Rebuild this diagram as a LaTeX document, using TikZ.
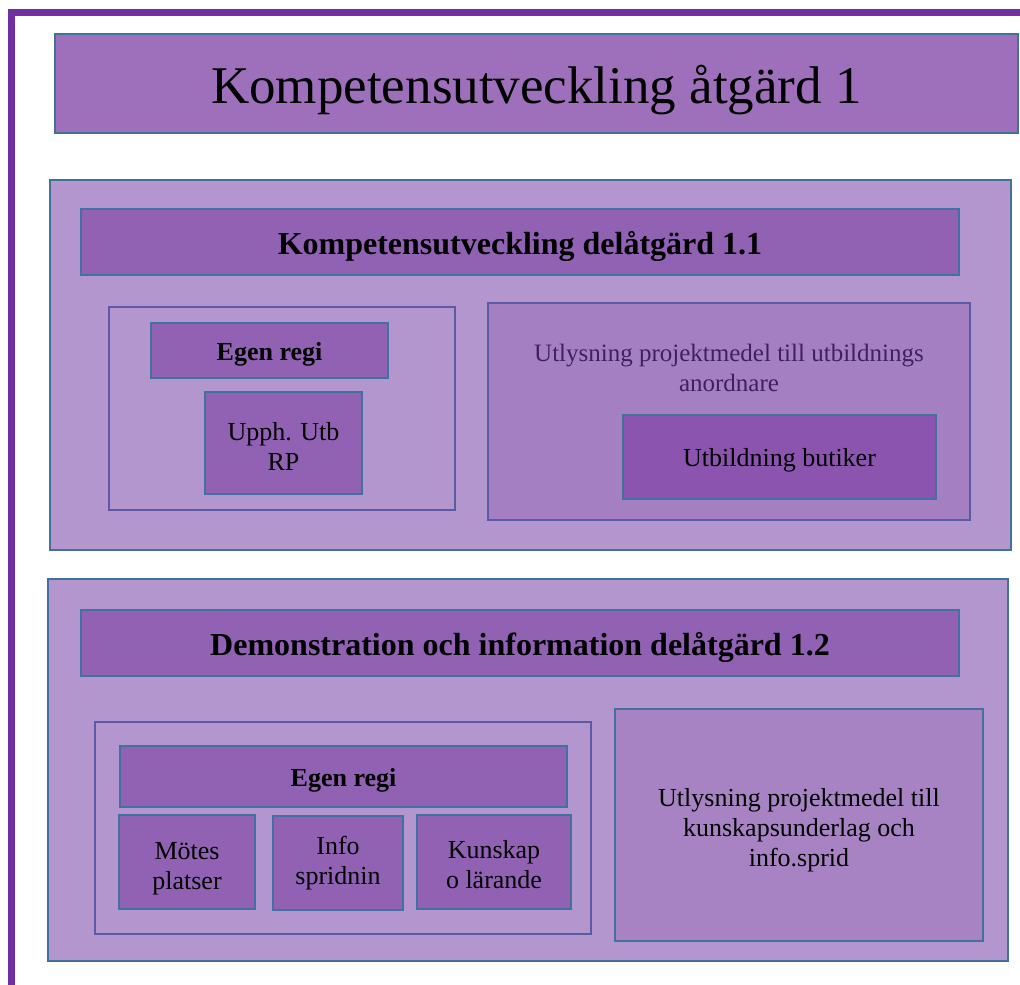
\documentclass[tikz,border=0pt]{standalone}
\usepackage{fontspec}
\setmainfont{Liberation Serif}
\definecolor{framec}{HTML}{7030A0}
\definecolor{edgeblue}{HTML}{41719C}
\definecolor{edgepurp}{HTML}{5B5BA5}
\definecolor{titlefill}{HTML}{9E70BC}
\definecolor{secfill}{HTML}{B396CE}
\definecolor{headfill}{HTML}{9161B4}
\definecolor{rfill}{HTML}{A47FC2}
\definecolor{darkfill}{HTML}{8A54AF}
\definecolor{r2fill}{HTML}{A883C4}
\definecolor{darktext}{HTML}{3F2160}
\newcommand\firstdn[1]{\rule{0pt}{#1}}
\tikzset{
  box/.style={draw=edgeblue, line width=1.6pt, inner sep=0pt, align=center, font=\fontsize{26}{30}\selectfont},
  one26/.style={text height=24.7pt, text depth=5.2pt},
  one32/.style={text height=30.4pt, text depth=6.4pt},
  sect/.style={box, fill=secfill},
  head/.style={box, one32, fill=headfill, font=\fontsize{32}{36}\selectfont\bfseries},
  egen/.style={box, one26, fill=headfill, font=\fontsize{26}{30}\selectfont\bfseries},
  leaf/.style={box, fill=headfill},
  grp/.style={box, draw=edgepurp, fill=secfill},
}
\begin{document}
\begin{tikzpicture}[x=1pt,y=-1pt]
\useasboundingbox (0,0) rectangle (1020,985);
\fill[white] (0,0) rectangle (1020,985);
\draw[framec, line width=6.5pt] (1020,12.5) -- (11.5,12.5) -- (11.5,985);
% title
\node[box, text height=50pt, text depth=10.6pt, fill=titlefill, minimum width=963pt, minimum height=99pt, font=\fontsize{53}{60}\selectfont] (title) at (536.5,83.5) {Kompetensutveckling åtgärd 1};
% section 1
\node[sect, minimum width=961pt, minimum height=370pt] (sec1) at (530.5,365) {};
\node[head, minimum width=878pt, minimum height=66pt] (h1) at (520,242) {Kompetensutveckling delåtgärd 1.1};
\node[grp, minimum width=346pt, minimum height=203pt] (l1) at (282,408.5) {};
\node[egen, minimum width=237pt, minimum height=55pt] (egen1) at (269.5,350.5) {Egen regi};
\node[leaf, minimum width=157pt, minimum height=102pt] (upph) at (283.5,443) {\firstdn{24pt}Upph. Utb\\RP};
\node[grp, fill=rfill, minimum width=482pt, minimum height=217pt] (r1) at (729,411.5) {};
\node[align=center, text=darktext, inner sep=0pt, font=\fontsize{25}{30}\selectfont] (r1t) at (729,368) {Utlysning projektmedel till utbildnings\\anordnare};
\node[box, one26, fill=darkfill, minimum width=313pt, minimum height=84pt] (but) at (779.5,457) {Utbildning butiker};
% section 2
\node[sect, minimum width=960pt, minimum height=382pt] (sec2) at (528,770) {};
\node[head, minimum width=878pt, minimum height=66pt] (h2) at (520,643) {Demonstration och information delåtgärd 1.2};
\node[grp, minimum width=496pt, minimum height=212pt] (l2) at (343,828) {};
\node[egen, minimum width=447pt, minimum height=61pt] (egen2) at (343.5,776.5) {Egen regi};
\node[leaf, minimum width=136pt, minimum height=94pt] (motes) at (187,862) {\firstdn{30pt}Mötes\\platser};
\node[leaf, minimum width=130pt, minimum height=94pt] (info) at (338,863) {Info\\spridnin};
\node[leaf, minimum width=154pt, minimum height=94pt] (kunskap) at (494,862) {\firstdn{24pt}Kunskap\\o lärande};
\node[box, fill=r2fill, minimum width=368pt, minimum height=232pt] (r2) at (799,825) {\firstdn{28pt}Utlysning projektmedel till\\kunskapsunderlag och\\info.sprid};
\end{tikzpicture}
\end{document}
